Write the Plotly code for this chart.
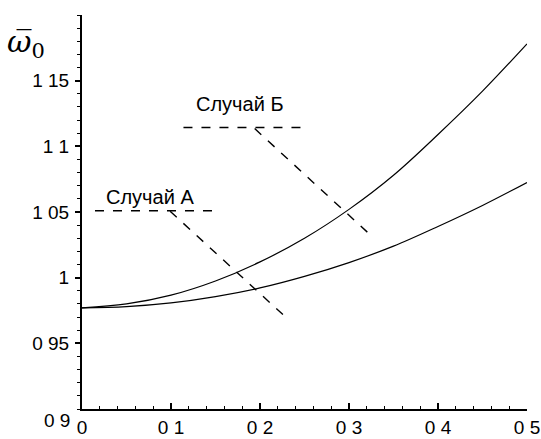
import plotly.graph_objects as go

x_vals = [0.0, 0.05, 0.1, 0.15, 0.2, 0.25, 0.3, 0.35, 0.4, 0.45, 0.5]
case_b = [0.977, 0.980, 0.9867, 0.9975, 1.012, 1.030, 1.052, 1.078, 1.109, 1.142, 1.178]
case_a = [0.977, 0.978, 0.9808, 0.9856, 0.9922, 1.001, 1.0115, 1.024, 1.039, 1.055, 1.0725]

# leader lines (x, y)
lead_a_h_x = [0.0146, 0.152]
lead_a_h_y = [1.051, 1.051]
lead_a_d_x = [0.099, 0.228]
lead_a_d_y = [1.0506, 0.9705]
lead_b_h_x = [0.114, 0.247]
lead_b_h_y = [1.1143, 1.1143]
lead_b_d_x = [0.194, 0.3236]
lead_b_d_y = [1.1135, 1.0328]

x_ticks = [0, 0.1, 0.2, 0.3, 0.4, 0.5]
x_tick_text = ["0", "0 1", "0 2", "0 3", "0 4", "0 5"]
y_ticks = [0.95, 1.0, 1.05, 1.1, 1.15]
y_tick_text = ["0 95", "1", "1 05", "1 1", "1 15"]

FONT = "Liberation Sans, Arial, sans-serif"

fig = go.Figure()
line_style = dict(color="black", width=1.2)
dash_style = dict(color="black", width=1.4, dash="dash")
fig.add_trace(go.Scatter(x=x_vals, y=case_b, mode="lines", line=dict(shape="spline", **line_style)))
fig.add_trace(go.Scatter(x=x_vals, y=case_a, mode="lines", line=dict(shape="spline", **line_style)))
for xs, ys in [(lead_a_h_x, lead_a_h_y), (lead_a_d_x, lead_a_d_y),
               (lead_b_h_x, lead_b_h_y), (lead_b_d_x, lead_b_d_y)]:
    fig.add_trace(go.Scatter(x=xs, y=ys, mode="lines", line=dash_style))

fig.add_annotation(x=0.0764, y=1.0618, text="Случай А", showarrow=False,
                   font=dict(family=FONT, size=20, color="black"))
fig.add_annotation(x=0.1775, y=1.1325, text="Случай Б", showarrow=False,
                   font=dict(family=FONT, size=20, color="black"))
fig.add_annotation(x=0.0, y=0.9, text="0 9", showarrow=False, xref="x", yref="y",
                   xanchor="right", xshift=-10, yshift=-11,
                   font=dict(family=FONT, size=19, color="black"))
# y-axis title: omega with overline, subscript 0
fig.add_annotation(xref="paper", yref="paper", x=-0.172, y=1.0, xanchor="left", yanchor="top",
                   text="<i>ω\u0305</i><sub>0</sub>", showarrow=False, yshift=-7,
                   font=dict(family="DejaVu Serif, serif", size=30, color="black"))

fig.update_layout(
    width=541, height=439,
    margin=dict(l=82, r=14, t=15, b=30),
    paper_bgcolor="white", plot_bgcolor="white",
    showlegend=False,
    font=dict(family=FONT, size=19, color="black"),
)
fig.update_xaxes(
    range=[0, 0.5], tickvals=x_ticks, ticktext=x_tick_text, automargin=False,
    showgrid=False, zeroline=False, showline=True, linecolor="black", linewidth=2,
    ticks="inside", ticklen=6, tickwidth=1.5, tickcolor="black",
    minor=dict(dtick=0.02, ticks="inside", ticklen=3, tickcolor="black", tickwidth=1),
    tickfont=dict(family=FONT, size=19), ticklabelstandoff=0,
)
fig.update_yaxes(
    range=[0.9, 1.2], tickvals=y_ticks, ticktext=y_tick_text, automargin=False,
    showgrid=False, zeroline=False, showline=True, linecolor="black", linewidth=2,
    ticks="outside", ticklen=5, tickwidth=1.5, tickcolor="black",
    minor=dict(dtick=0.01, ticks="outside", ticklen=3, tickcolor="black", tickwidth=1),
    tickfont=dict(family=FONT, size=19), ticklabelstandoff=2,
)

fig.write_html("out.html")
